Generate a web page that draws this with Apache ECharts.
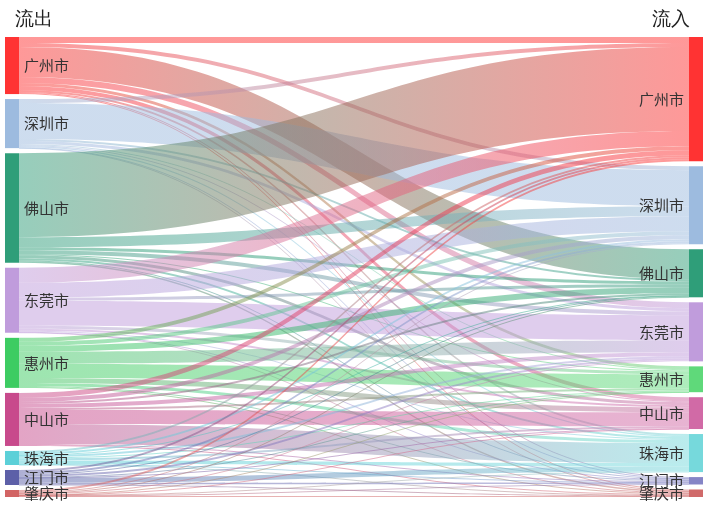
<!DOCTYPE html>
<html>
<head>
<meta charset="utf-8">
<script src="https://cdn.jsdelivr.net/npm/echarts@6/dist/echarts.min.js"></script>
<style>html,body{margin:0;padding:0;background:#fff}#c{width:713px;height:514px}</style>
</head>
<body>
<div id="c"></div>
<script>
// Cities (order used for both columns)
const cities = ['广州市', '深圳市', '佛山市', '东莞市', '惠州市', '中山市', '珠海市', '江门市', '肇庆市'];
const outColors = ['#ff3333', '#9dbbdf', '#2f9e79', '#c09cdc', '#3dcc62', '#c84a8c', '#5cd0d8', '#5d60a8', '#d26464'];
const inColors  = ['#ff3333', '#9dbbdf', '#2f9e79', '#c09cdc', '#5fd97a', '#d16aa6', '#76d9dc', '#8585c6', '#d06a6a'];

// Outflow from each city to [广州, 深圳, 佛山, 东莞, 惠州, 中山, 珠海, 江门, 肇庆]
const fromGuangzhou = [6, 4, 30, 6, 3, 4, 2, 1, 1];
const fromShenzhen  = [4, 36, 2, 3, 1, 1, 1, 0.5, 0.5];
const fromFoshan    = [84, 10, 3, 4, 1, 3, 2, 1, 1.5];
const fromDongguan  = [15, 15, 3, 25, 3, 2, 1, 0.5, 0.5];
const fromHuizhou   = [4, 4, 6, 12, 14, 5, 3, 1, 1];
const fromZhongshan = [5, 4, 2, 4, 2, 14, 20, 1, 1];
const fromZhuhai    = [2, 2, 0.5, 2, 1, 2, 3.5, 0.5, 0.5];
const fromJiangmen  = [2, 2, 1, 2, 0.5, 0.5, 5, 1.5, 0.5];
const fromZhaoqing  = [2, 1, 0.5, 1, 0.3, 0.3, 0.5, 0.4, 1];

const outflows = [fromGuangzhou, fromShenzhen, fromFoshan, fromDongguan, fromHuizhou,
                  fromZhongshan, fromZhuhai, fromJiangmen, fromZhaoqing];

const SEP = '|';
const nodes = [];
cities.forEach((c, i) => nodes.push({ name: '出' + SEP + c, depth: 0, itemStyle: { color: outColors[i] } }));
cities.forEach((c, i) => nodes.push({ name: '入' + SEP + c, depth: 1, itemStyle: { color: inColors[i] } }));

const links = [];
outflows.forEach((row, i) => {
  row.forEach((v, j) => {
    if (v > 0) links.push({ source: '出' + SEP + cities[i], target: '入' + SEP + cities[j], value: v });
  });
});

const chart = echarts.init(document.getElementById('c'), null, { renderer: 'canvas' });
chart.setOption({
  animation: false,
  title: [
    { text: '流出', left: 10, top: 5, textStyle: { fontSize: 19, fontWeight: 'normal', color: '#222' } },
    { text: '流入', right: 18, top: 5, textStyle: { fontSize: 19, fontWeight: 'normal', color: '#222' } }
  ],
  series: [{
    type: 'sankey',
    left: 5,
    right: 10,
    top: 37,
    bottom: 17,
    nodeWidth: 14,
    nodeGap: 5,
    layoutIterations: 0,
    draggable: false,
    data: nodes,
    links: links,
    itemStyle: { borderWidth: 0 },
    lineStyle: { color: 'gradient', opacity: 0.5, curveness: 0.5 },
    label: {
      fontSize: 15,
      color: '#333',
      fontFamily: 'Noto Sans CJK SC',
      formatter: p => p.name.split(SEP)[1]
    },
    levels: [
      { depth: 0, label: { position: 'right' } },
      { depth: 1, label: { position: 'left' } }
    ]
  }]
});
</script>
</body>
</html>
